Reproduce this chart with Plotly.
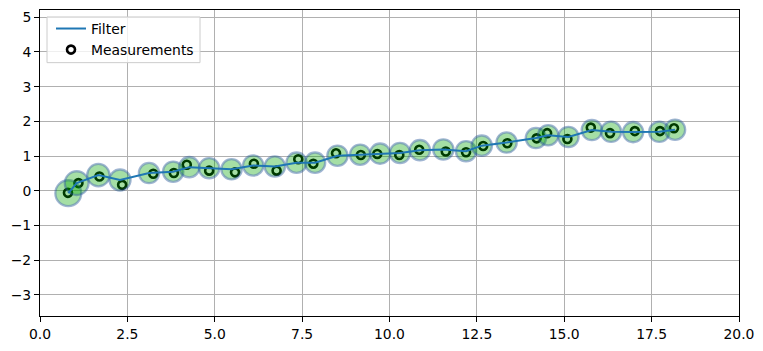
import plotly.graph_objects as go

# Filter estimates (ellipse centres)
filt_x = [0.81, 1.05, 1.67, 2.29, 3.12, 3.81, 4.27, 4.84, 5.48, 6.10,
          6.72, 7.34, 7.87, 8.51, 9.16, 9.73, 10.30, 10.87, 11.54, 12.19,
          12.64, 13.35, 14.19, 14.54, 15.12, 15.79, 16.34, 16.97, 17.72, 18.17]
filt_y = [-0.07, 0.22, 0.45, 0.31, 0.51, 0.55, 0.68, 0.65, 0.62, 0.73,
          0.70, 0.81, 0.81, 1.01, 1.04, 1.07, 1.09, 1.17, 1.19, 1.14,
          1.30, 1.39, 1.52, 1.60, 1.55, 1.75, 1.70, 1.69, 1.70, 1.76]
# Measurements
meas_x = [0.80, 1.10, 1.70, 2.35, 3.24, 3.83, 4.20, 4.84, 5.58, 6.12,
          6.77, 7.39, 7.82, 8.47, 9.18, 9.65, 10.28, 10.85, 11.61, 12.19,
          12.68, 13.37, 14.21, 14.51, 15.09, 15.76, 16.31, 17.02, 17.74, 18.14]
meas_y = [-0.06, 0.22, 0.41, 0.17, 0.49, 0.51, 0.75, 0.58, 0.53, 0.78,
          0.58, 0.91, 0.78, 1.08, 1.03, 1.06, 1.03, 1.18, 1.13, 1.11,
          1.29, 1.37, 1.51, 1.66, 1.49, 1.82, 1.66, 1.72, 1.72, 1.80]
# Covariance ellipse radii (data units)
ell_r = [0.37, 0.34, 0.32, 0.30, 0.29, 0.29, 0.29, 0.29, 0.29, 0.29,
         0.29, 0.29, 0.29, 0.29, 0.29, 0.29, 0.29, 0.29, 0.29, 0.29,
         0.29, 0.29, 0.29, 0.29, 0.29, 0.29, 0.29, 0.29, 0.29, 0.29]

x_range = [0, 20]
y_range = [-3.61, 5.21]
x_ticks = [0, 2.5, 5, 7.5, 10, 12.5, 15, 17.5, 20]
x_ticklabels = ["0.0", "2.5", "5.0", "7.5", "10.0", "12.5", "15.0", "17.5", "20.0"]
y_ticks = [-3, -2, -1, 0, 1, 2, 3, 4, 5]
y_ticklabels = ["\u22123", "\u22122", "\u22121", "0", "1", "2", "3", "4", "5"]

W, H = 763, 351
ML, MR, MT, MB = 40, 24, 9, 34
PW, PH = W - ML - MR, H - MT - MB
px_per_unit = PW / (x_range[1] - x_range[0])

fig = go.Figure()

# measurements drawn first (under the ellipses)
fig.add_trace(go.Scatter(
    x=meas_x, y=meas_y, mode="markers", name="Measurements",
    marker=dict(symbol="circle-open", size=8, color="black", line=dict(width=2.6)),
    legendrank=2,
))
fig.add_trace(go.Scatter(
    x=filt_x, y=filt_y, mode="markers", showlegend=False, hoverinfo="skip",
    marker=dict(size=[2 * r * px_per_unit for r in ell_r],
                color="rgba(0,165,0,0.5)",
                line=dict(color="rgba(30,80,150,0.6)", width=2.3)),
))
fig.add_trace(go.Scatter(
    x=filt_x, y=filt_y, mode="lines", name="Filter",
    line=dict(color="#1f77b4", width=2), legendrank=1,
))

axis_common = dict(
    showgrid=True, gridcolor="#b0b0b0", gridwidth=1,
    showline=True, linecolor="black", linewidth=1, mirror=True,
    ticks="outside", ticklen=5, tickcolor="black", tickwidth=1,
    zeroline=False, tickfont=dict(family="DejaVu Sans", size=13.9, color="black"),
)
fig.update_xaxes(range=x_range, tickvals=x_ticks, ticktext=x_ticklabels, **axis_common)
fig.update_yaxes(range=y_range, tickvals=y_ticks, ticktext=y_ticklabels, **axis_common)

# legend frame (matplotlib-like) drawn as a shape
def px2paper_x(px):
    return (px - ML) / PW

def py2paper_y(py):
    return (H - MB - py) / PH

fig.add_shape(type="rect", xref="paper", yref="paper", layer="above",
              x0=px2paper_x(47), x1=px2paper_x(200), y0=py2paper_y(62), y1=py2paper_y(16),
              fillcolor="rgba(255,255,255,0.8)", line=dict(color="#cccccc", width=1))

fig.update_layout(
    width=W, height=H,
    margin=dict(l=ML, r=MR, t=MT, b=MB),
    plot_bgcolor="white", paper_bgcolor="white",
    showlegend=True,
    legend=dict(x=px2paper_x(51), y=py2paper_y(12), xanchor="left", yanchor="top",
                bgcolor="rgba(0,0,0,0)", borderwidth=0,
                font=dict(family="DejaVu Sans", size=13.9, color="black"),
                traceorder="normal", itemwidth=30, tracegroupgap=0),
)

fig.write_html("out.html")
